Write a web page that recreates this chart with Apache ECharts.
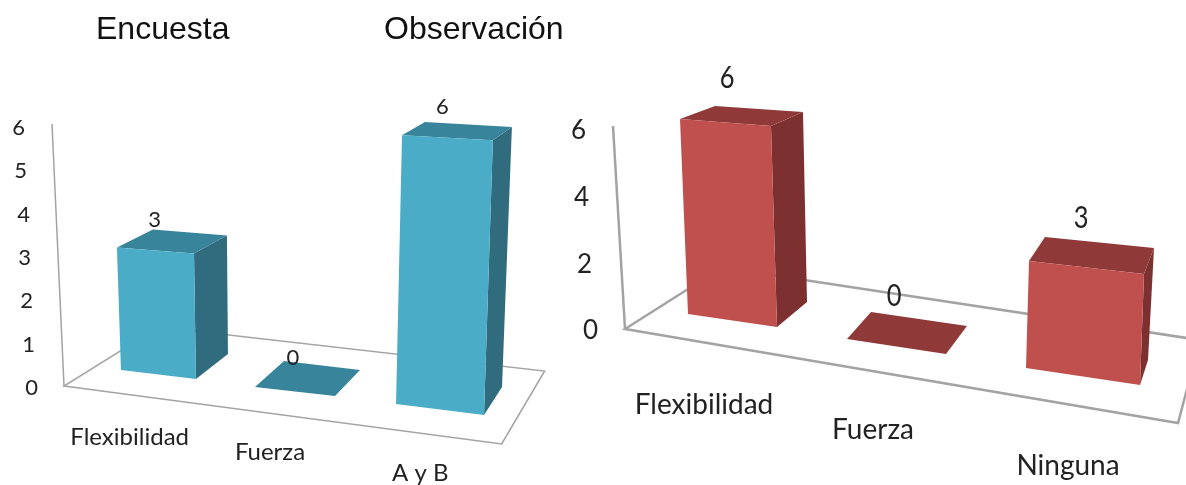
<!DOCTYPE html>
<html>
<head>
<meta charset="utf-8">
<style>html,body{margin:0;padding:0;background:#fff}#c{width:1186px;height:485px}</style>
<script src="https://cdn.jsdelivr.net/npm/echarts@6/dist/echarts.min.js"></script>
</head>
<body>
<div id="c"></div>
<script>
// ---- data ----
var titles = ['Encuesta', 'Observación'];
var encuestaCategories = ['Flexibilidad', 'Fuerza', 'A y B'];
var encuestaValues = [3, 0, 6];
var observacionCategories = ['Flexibilidad', 'Fuerza', 'Ninguna'];
var observacionValues = [6, 0, 3];

// ---- pseudo-3D styling: corner offsets around each category's axis point ----
// base: FL, FR, BR, BL px offsets; rise: lean and height per axis unit; label: px offset
var leftPoses = [
  {base:[[-3.7,-16],[71.3,-7],[103.3,-32],[28.3,-41]], rise:[[-.031,.943],[-.015,.966],[-.008,.912],[0,.889]], label:[30,-36]},
  {base:[[-15,1],[65,10],[90,-16],[14,-25]], rise:[[0,1],[0,1],[0,1],[0,1]], label:[23,-28]},
  {base:[[-19.3,18],[68.7,29],[86.7,1],[-1.3,-10]], rise:[[.023,1.034],[.034,1.057],[.038,1],[.042,.977]], label:[27,-19]}
];
var rightPoses = [
  {base:[[-16,-15],[73,-2],[103,-27],[14,-40]], rise:[[-.04,.975],[-.03,1.005],[-.02,.95],[-.015,.915]], label:[23,-51]},
  {base:[[-39,10],[60,25],[81,-3],[-15,-17]], rise:[[0,1],[0,1],[0,1],[0,1]], label:[8,-33]},
  {base:[[-42,39],[72,56],[80,31],[-34,14]], rise:[[.03,1.07],[.04,1.11],[.06,1.12],[.11,1.06]], label:[13,-11]}
];
var charts = [
  {grid:{left:52, width:436, top:126, height:261}, interval:1, cats:encuestaCategories, vals:encuestaValues, poses:leftPoses,
   colors:{front:'#4aacc7', top:'#38849b', side:'#316c7e'}, font:'Lato', size:22, labelScale:1, catSize:24, axisSize:22, lineW:1.5, margin:14,
   axisPad:{0:0,1:3,2:5,3:7,4:8,5:11,6:13},
   catPad:[[39,0,0,10],[54,0,0,0],[75,0,0,10]],
   wall:[12,-262], floor:[[-60.67,0],[377,58],[420,-15],[34,-59]]},
  {grid:{left:613, width:546, top:129, height:200}, interval:2, cats:observacionCategories, vals:observacionValues, poses:rightPoses,
   colors:{front:'#c0504d', top:'#8f3a39', side:'#7c3130'}, font:'Lato', size:31, labelScale:.82, catSize:28, axisSize:26, lineW:2.5, margin:15,
   axisPad:{0:0,2:6,4:9,6:12},
   catPad:[[62,0,0,0],[87,26,0,0],[123,0,0,0]],
   wall:[12,-203], floor:[[-79,0],[474,94],[496,11],[18,-61.5]]}
];

function barRender(ch){
  return function(params, api){
    var i = api.value(0), v = api.value(1);
    var o = api.coord([i, 0]);
    var unit = api.size([0, 1])[1];
    var p = ch.poses[i];
    var base = p.base.map(function(b){return [o[0]+b[0], o[1]+b[1]];});
    var top = base.map(function(b,k){return [b[0]+p.rise[k][0]*v*unit, b[1]-p.rise[k][1]*v*unit];});
    var kids = [];
    if (v > 0) {
      kids.push({type:'polygon', shape:{points:[top[1],top[2],base[2],base[1]]}, style:{fill:ch.colors.side}});
    }
    kids.push({type:'polygon', shape:{points:[top[0],top[1],top[2],top[3]]}, style:{fill:ch.colors.top}});
    if (v > 0) {
      kids.push({type:'polygon', shape:{points:[top[0],top[1],base[1],base[0]]}, style:{fill:ch.colors.front}});
    }
    var c = api.coord([i, v]);
    kids.push({type:'text', x:c[0]+p.label[0], y:c[1]+p.label[1], scaleX:ch.labelScale, style:{text:String(v), font:ch.size+'px "'+ch.font+'"', fill:'#222', align:'center', verticalAlign:'middle'}});
    return {type:'group', children:kids};
  };
}
function floorRender(ch){
  return function(params, api){
    var o = api.coord([0, 0]);
    var f = ch.floor.map(function(b){return [o[0]+b[0], o[1]+b[1]];});
    var ls = {stroke:'#a3a3a3', lineWidth:ch.lineW, fill:null};
    return {type:'group', children:[
      {type:'polygon', shape:{points:f}, style:ls},
      {type:'line', shape:{x1:f[0][0], y1:f[0][1], x2:f[0][0]-ch.wall[0], y2:f[0][1]+ch.wall[1]}, style:ls}
    ]};
  };
}

var option = {
  animation:false,
  backgroundColor:'#fff',
  title:[
    {text:titles[0], left:91, top:9, textStyle:{fontFamily:'Liberation Sans', fontSize:32, fontWeight:'normal', color:'#111'}},
    {text:titles[1], left:379, top:9, textStyle:{fontFamily:'Liberation Sans', fontSize:32, fontWeight:'normal', color:'#111'}}
  ],
  grid:[], xAxis:[], yAxis:[], series:[]
};
charts.forEach(function(ch, g){
  option.grid.push(ch.grid);
  var cr = {};
  ch.catPad.forEach(function(pad,k){cr['c'+k] = {padding:pad, fontFamily:ch.font, fontSize:ch.catSize, color:'#222'};});
  option.xAxis.push({type:'category', gridIndex:g, data:ch.cats, boundaryGap:true,
    axisLine:{show:false}, axisTick:{show:false}, splitLine:{show:false},
    axisLabel:{interval:0, margin:0, verticalAlign:'top', rich:cr, formatter:function(val,idx){return '{c'+idx+'|'+val+'}';}}});
  var yr = {};
  Object.keys(ch.axisPad).forEach(function(k){yr['v'+k] = {padding:[4,ch.axisPad[k],0,0], fontFamily:ch.font, fontSize:ch.axisSize, color:'#222'};});
  option.yAxis.push({type:'value', gridIndex:g, min:0, max:6, interval:ch.interval,
    axisLine:{show:false}, axisTick:{show:false}, splitLine:{show:false},
    axisLabel:{margin:ch.margin, rich:yr, formatter:function(val){return '{v'+val+'|'+val+'}';}}});
  option.series.push({type:'custom', xAxisIndex:g, yAxisIndex:g, z:1, silent:true, data:[[0,0]], renderItem:floorRender(ch), encode:{x:0,y:1}});
  option.series.push({type:'custom', xAxisIndex:g, yAxisIndex:g, z:2, silent:true,
    data:ch.vals.map(function(v,i){return [i,v];}), renderItem:barRender(ch), encode:{x:0,y:1}});
});
echarts.init(document.getElementById('c')).setOption(option);
</script>
</body>
</html>
